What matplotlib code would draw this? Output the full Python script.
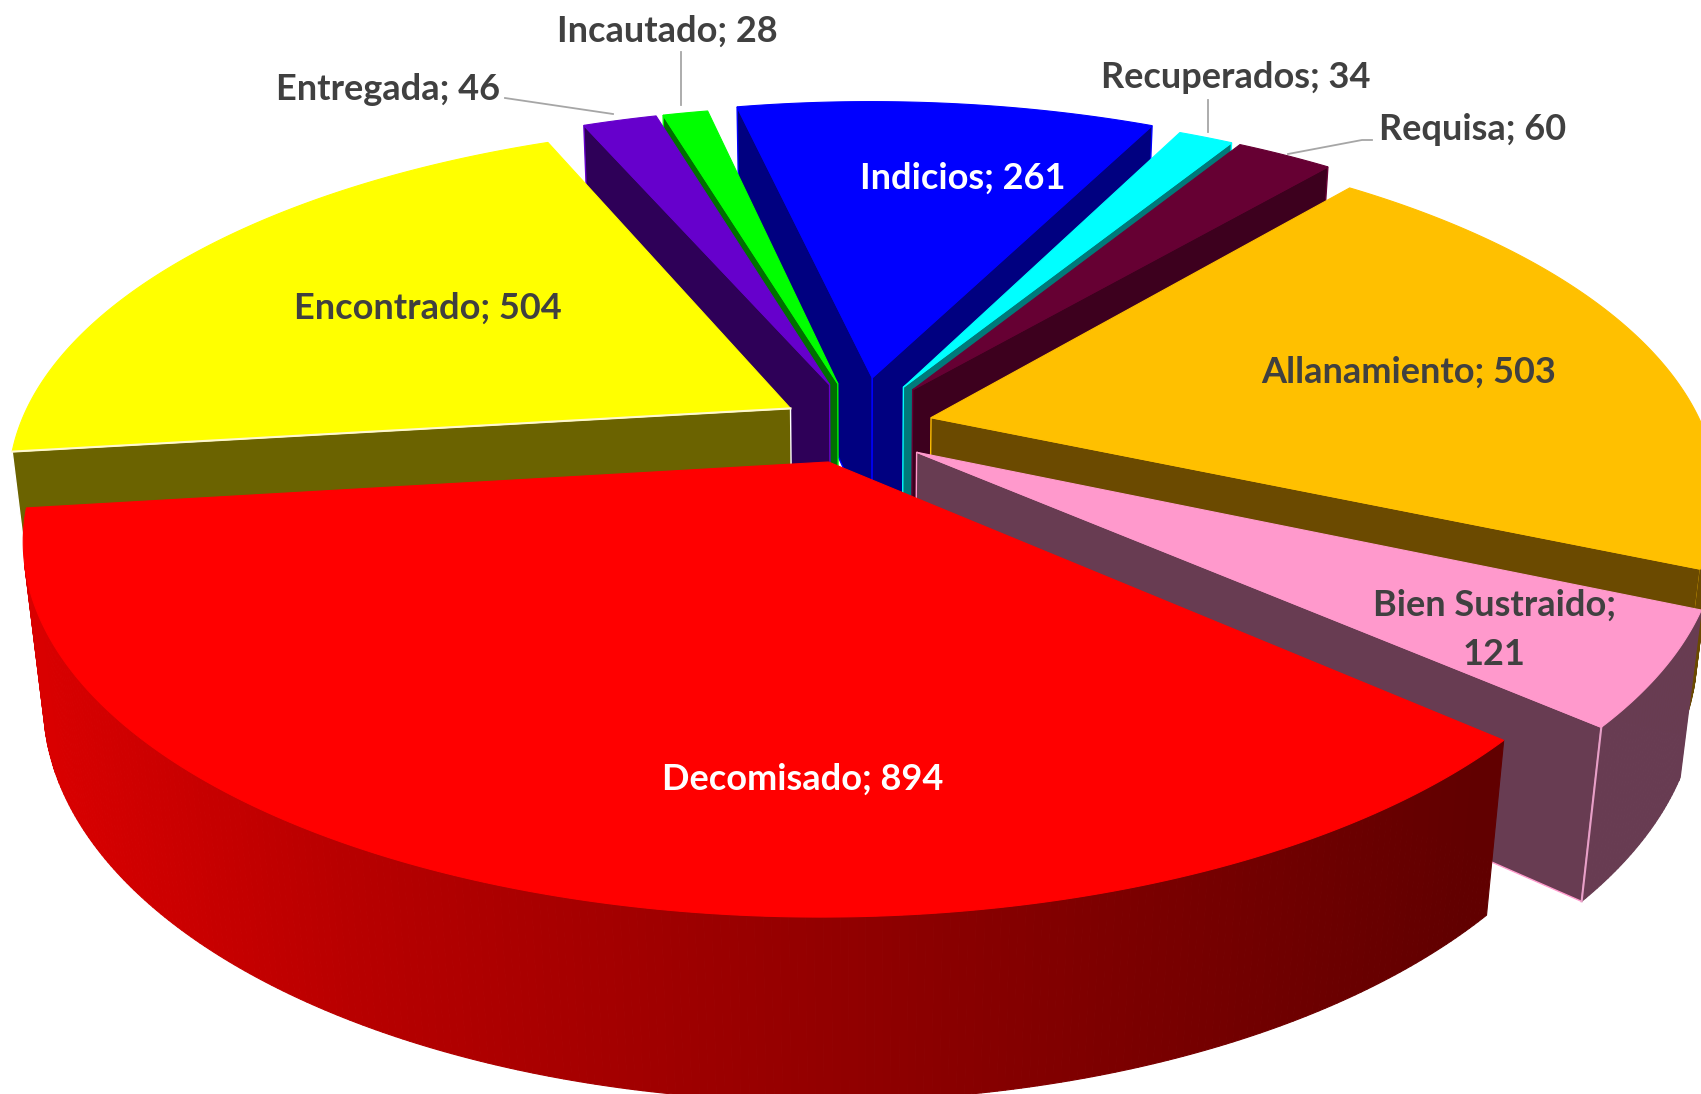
import numpy as np
import matplotlib
matplotlib.use('Agg')
import matplotlib.pyplot as plt
from matplotlib.colors import to_rgb
from matplotlib.patches import Polygon

# clockwise from the right edge of Decomisado
names = ['Decomisado', 'Encontrado', 'Entregada', 'Incautado', 'Indicios',
         'Recuperados', 'Requisa', 'Allanamiento', 'Bien Sustraido']
values = [894, 504, 46, 28, 261, 34, 60, 503, 121]

top_colors = ['#ff0000', '#ffff00', '#6600cc', '#00ff00', '#0000ff',
              '#00ffff', '#660033', '#ffc000', '#ff99cc']
wall_colors = ['#a00000', '#6b6300', '#2e0058', '#007000', '#000080',
               '#007a7a', '#3d001e', '#6b4a00', '#683c52']
explode = [0.115, 0.105, 0.12, 0.12, 0.135, 0.12, 0.12, 0.095, 0.105]
# small sideways moves on top of the explode, slices do not sit quite radially
shift_x = [-0.006, 0.0, 0.0, 0.0, 0.0, 0.0, 0.0, 0.0, -0.016]
shift_y = [0.0, -0.01, 0.0, 0.0, 0.0, 0.0, 0.0, -0.006, -0.026]

start_angle = 318.4
height = 0.232

# camera
cx, cy = 860.0, 423.0
F = 770.0
tilt = np.radians(26.8)
dist = 4.5


def project(x, y, z):
    w = dist + y * np.cos(tilt) - z * np.sin(tilt)
    sx = cx + F * dist * x / w
    sy = cy - F * dist * (y * np.sin(tilt) + z * np.cos(tilt)) / w
    return sx, sy


def faces_camera(px, py, nx, ny):
    camx = 0.0
    camy = -dist * np.cos(tilt)
    return nx * (px - camx) + ny * (py - camy) < 0


def quad(p1, p2):
    # wall between two top points
    a = project(p1[0], p1[1], 0)
    b = project(p2[0], p2[1], 0)
    c = project(p2[0], p2[1], -height)
    d = project(p1[0], p1[1], -height)
    return [a, b, c, d]


fig = plt.figure(figsize=(17.01, 10.94), dpi=100)
ax = fig.add_axes([0, 0, 1, 1])
ax.set_xlim(0, 1701)
ax.set_ylim(1094, 0)
ax.axis('off')

total = float(sum(values))
spans = [v / total * 360.0 for v in values]
ends = start_angle - np.cumsum(spans)
starts = ends + np.array(spans)
mids = (starts + ends) / 2.0

order = np.argsort(-np.sin(np.radians(mids)))
z = 1
for i in order:
    th = np.radians(np.linspace(starts[i], ends[i], int(spans[i]) * 2 + 3))
    mid = np.radians(mids[i])
    ox = explode[i] * np.cos(mid) + shift_x[i]
    oy = explode[i] * np.sin(mid) + shift_y[i]
    xs = ox + np.cos(th)
    ys = oy + np.sin(th)
    apex = (ox, oy)
    edge = 'white' if i == 1 else top_colors[i]

    # radial walls
    a1, a2 = th[0], th[-1]
    if faces_camera(ox, oy, -np.sin(a1), np.cos(a1)):
        ax.add_patch(Polygon(quad(apex, (xs[0], ys[0])), fc=wall_colors[i],
                             ec=edge, lw=1, zorder=z))
        z += 1
    if faces_camera(ox, oy, np.sin(a2), -np.cos(a2)):
        ax.add_patch(Polygon(quad(apex, (xs[-1], ys[-1])), fc=wall_colors[i],
                             ec=edge, lw=1, zorder=z))
        z += 1

    # outer wall, the big slice is shaded across the picture
    for k in range(len(th) - 1):
        tm = (th[k] + th[k + 1]) / 2.0
        if not faces_camera(ox + np.cos(tm), oy + np.sin(tm), np.cos(tm), np.sin(tm)):
            continue
        pts = quad((xs[k], ys[k]), (xs[k + 1], ys[k + 1]))
        col = to_rgb(wall_colors[i])
        if i == 0:
            col = (np.interp(pts[0][0], [40, 350, 1480], [0.85, 0.72, 0.38]), 0, 0)
        ax.add_patch(Polygon(pts, fc=col, ec=col, lw=0.8, zorder=z))
        z += 1

    # pale line down the corner of the pink slice
    if i == 8:
        pts = quad((xs[-1], ys[-1]), (xs[-1], ys[-1]))
        ax.plot([pts[0][0], pts[3][0]], [pts[0][1], pts[3][1]], color='#e8a0c8', lw=1.5, zorder=z)
        z += 1

    # top
    sx, sy = project(np.r_[ox, xs], np.r_[oy, ys], 0)
    ax.add_patch(Polygon(np.c_[sx, sy], fc=top_colors[i], ec=top_colors[i], lw=0.8, zorder=z))
    z += 1

    # white rim along the front of the yellow slice
    if i == 1:
        ax.plot([sx[0], sx[1]], [sy[0], sy[1]], color='#fff8d0', lw=1.5, zorder=z)
        z += 1

# labels
font = dict(family='Lato', fontweight='bold', fontsize=26, ha='center', va='center', zorder=z + 2)
label_pos = {'Incautado': (667, 31), 'Entregada': (388, 90), 'Recuperados': (1236, 78),
             'Requisa': (1473, 130), 'Indicios': (963, 178), 'Encontrado': (428, 308),
             'Allanamiento': (1409, 372), 'Bien Sustraido': (1494, 630), 'Decomisado': (803, 779)}
for n, v in zip(names, values):
    txt = n + '; ' + str(v)
    if n == 'Bien Sustraido':
        txt = n + ';\n' + str(v)
    col = 'white' if n in ('Decomisado', 'Indicios') else '#404040'
    ax.text(label_pos[n][0], label_pos[n][1], txt, color=col, linespacing=1.6, **font)

# leader lines
ax.plot([505, 613], [98, 114], color='#a6a6a6', lw=1.3, zorder=z + 1)
ax.plot([681, 681], [52, 105], color='#a6a6a6', lw=1.3, zorder=z + 1)
ax.plot([1208, 1208], [100, 132], color='#a6a6a6', lw=1.3, zorder=z + 1)
ax.plot([1372, 1362, 1288], [140, 140, 154], color='#a6a6a6', lw=1.3, zorder=z + 1)

fig.savefig('out.png', dpi=100)
